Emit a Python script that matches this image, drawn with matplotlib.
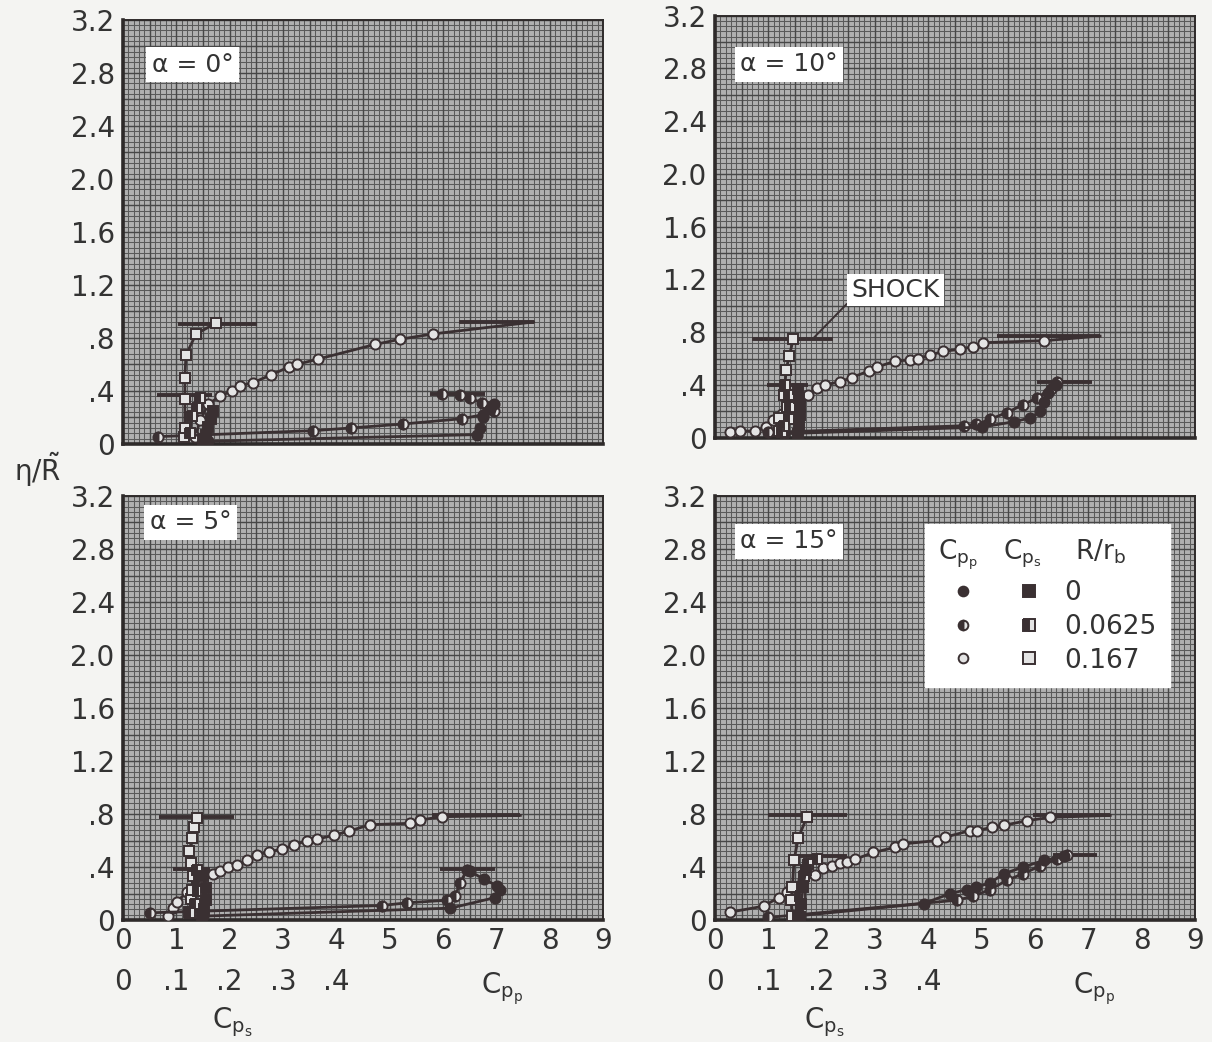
import matplotlib
matplotlib.use("Agg")
import matplotlib.pyplot as plt
import numpy as np
from matplotlib.legend_handler import HandlerTuple
from matplotlib.lines import Line2D

plt.rcParams["font.family"] = ["DejaVu Sans"]
plt.rcParams["mathtext.default"] = "regular"

INK = "#3a3032"
TXT = "#333333"
PAPER = "#b0b0b0"
OPEN_FACE = "#e4e4e4"
CPS_SCALE = 10  # Cps scale: .1 of Cps per unit of Cpp

# axis ticks
cpp_ticks = [0, 1, 2, 3, 4, 5, 6, 7, 8, 9]
cps_tick_labels = ["0", ".1", ".2", ".3", ".4"]
eta_ticks = [0, 0.4, 0.8, 1.2, 1.6, 2.0, 2.4, 2.8, 3.2]
eta_tick_labels = ["0", ".4", ".8", "1.2", "1.6", "2.0", "2.4", "2.8", "3.2"]
r_values = ["0", "0.0625", "0.167"]
alphas = [0, 10, 5, 15]

# ---- alpha = 0 deg ----
a0_cpp_167_x = [1.35, 1.45, 1.60, 1.82, 2.04, 2.19, 2.43, 2.77, 3.11, 3.26, 3.66, 4.72, 5.20, 5.82, 7.70]
a0_cpp_167_y = [0.05, 0.18, 0.30, 0.36, 0.40, 0.44, 0.46, 0.52, 0.58, 0.60, 0.64, 0.75, 0.79, 0.83, 0.92]
a0_cpp_0625_x = [0.66, 3.57, 4.27, 5.25, 6.35, 6.75, 6.95, 6.85, 6.73, 6.51, 6.32, 5.98]
a0_cpp_0625_y = [0.055, 0.10, 0.12, 0.15, 0.19, 0.22, 0.25, 0.28, 0.31, 0.345, 0.37, 0.38]
a0_cpp_0_x = [1.60, 6.63, 6.69, 6.75, 6.88, 6.96]
a0_cpp_0_y = [0.02, 0.07, 0.12, 0.20, 0.26, 0.30]
a0_cps_167_x = [0.114, 0.116, 0.116, 0.116, 0.118, 0.137, 0.174]
a0_cps_167_y = [0.05, 0.12, 0.34, 0.50, 0.67, 0.83, 0.91]
a0_cps_0625_x = [0.125, 0.130, 0.138, 0.144]
a0_cps_0625_y = [0.08, 0.21, 0.27, 0.345]
a0_cps_0_x = [0.150, 0.155, 0.160, 0.165, 0.168]
a0_cps_0_y = [0.02, 0.07, 0.13, 0.19, 0.25]
a0_shock_cpp_167 = [6.30, 7.70, 0.92]
a0_shock_cpp_0625 = [5.76, 6.79, 0.38]
a0_shock_cps_167 = [0.103, 0.251, 0.905]
a0_shock_cps_0625 = [0.064, 0.167, 0.37]

# ---- alpha = 10 deg ----
a10_cpp_167_x = [0.28, 0.47, 0.75, 0.96, 1.09, 1.25, 1.41, 1.59, 1.75, 1.91, 2.06, 2.35, 2.56, 2.88,
                 3.03, 3.38, 3.66, 3.81, 4.03, 4.28, 4.60, 4.83, 5.03, 6.16, 7.22]
a10_cpp_167_y = [0.04, 0.05, 0.05, 0.08, 0.13, 0.18, 0.23, 0.29, 0.32, 0.375, 0.40, 0.425, 0.455, 0.505,
                 0.535, 0.58, 0.59, 0.60, 0.625, 0.655, 0.67, 0.69, 0.72, 0.735, 0.77]
a10_cpp_0625_x = [1.00, 4.66, 4.90, 5.16, 5.47, 5.78, 6.03, 6.29, 6.41]
a10_cpp_0625_y = [0.04, 0.09, 0.10, 0.14, 0.19, 0.25, 0.30, 0.37, 0.42]
a10_cpp_0_x = [1.30, 5.00, 5.60, 5.91, 6.10, 6.16, 6.25, 6.40]
a10_cpp_0_y = [0.03, 0.08, 0.12, 0.15, 0.20, 0.27, 0.34, 0.40]
a10_cps_167_x = [0.119, 0.120, 0.134, 0.130, 0.131, 0.133, 0.139, 0.147]
a10_cps_167_y = [0.05, 0.15, 0.23, 0.32, 0.39, 0.51, 0.62, 0.75]
a10_cps_0625_x = [0.125, 0.130, 0.138, 0.140, 0.138, 0.132]
a10_cps_0625_y = [0.04, 0.09, 0.14, 0.23, 0.32, 0.40]
a10_cps_0_x = [0.155, 0.158, 0.160, 0.160, 0.158, 0.155]
a10_cps_0_y = [0.03, 0.10, 0.17, 0.23, 0.30, 0.37]
a10_shock_cpp_167 = [5.28, 7.22, 0.77]
a10_shock_cpp_0625 = [6.03, 7.07, 0.42]
a10_shock_cps_167 = [0.069, 0.222, 0.75]
a10_shock_cps_0625 = [0.097, 0.175, 0.40]

# ---- alpha = 5 deg ----
a5_cpp_167_x = [0.85, 0.94, 1.01, 1.20, 1.44, 1.69, 1.82, 1.97, 2.13, 2.32, 2.51, 2.73, 2.98, 3.20,
                3.45, 3.63, 3.95, 4.23, 4.63, 5.38, 5.57, 5.98, 7.45]
a5_cpp_167_y = [0.03, 0.09, 0.14, 0.21, 0.28, 0.35, 0.37, 0.40, 0.415, 0.45, 0.49, 0.515, 0.535, 0.565,
                0.60, 0.61, 0.64, 0.67, 0.72, 0.73, 0.755, 0.78, 0.79]
a5_cpp_0625_x = [0.51, 4.85, 5.32, 6.07, 6.23, 6.32, 6.45]
a5_cpp_0625_y = [0.055, 0.11, 0.13, 0.15, 0.18, 0.28, 0.38]
a5_cpp_0_x = [1.50, 6.14, 6.98, 7.06, 7.01, 6.76, 6.50]
a5_cpp_0_y = [0.03, 0.09, 0.17, 0.23, 0.26, 0.31, 0.37]
a5_cps_167_x = [0.124, 0.127, 0.129, 0.131, 0.127, 0.124, 0.130, 0.133, 0.138]
a5_cps_167_y = [0.06, 0.16, 0.23, 0.33, 0.43, 0.52, 0.62, 0.70, 0.77]
a5_cps_0625_x = [0.125, 0.135, 0.140, 0.142, 0.138]
a5_cps_0625_y = [0.05, 0.12, 0.22, 0.30, 0.38]
a5_cps_0_x = [0.148, 0.152, 0.155, 0.155, 0.150]
a5_cps_0_y = [0.02, 0.08, 0.15, 0.24, 0.33]
a5_shock_cpp_167 = [5.80, 7.45, 0.79]
a5_shock_cpp_0625 = [5.95, 6.98, 0.385]
a5_shock_cps_167 = [0.068, 0.208, 0.78]
a5_shock_cps_0625 = [0.093, 0.163, 0.385]

# ---- alpha = 15 deg ----
a15_cpp_167_x = [0.28, 0.91, 1.19, 1.34, 1.43, 1.65, 1.88, 2.03, 2.19, 2.34, 2.47, 2.63, 2.97, 3.38,
                 3.53, 4.16, 4.31, 4.78, 4.91, 5.19, 5.41, 5.85, 6.28, 7.41]
a15_cpp_167_y = [0.06, 0.105, 0.17, 0.21, 0.25, 0.30, 0.34, 0.39, 0.41, 0.43, 0.435, 0.46, 0.51, 0.55,
                 0.575, 0.60, 0.625, 0.675, 0.675, 0.70, 0.715, 0.75, 0.775, 0.79]
a15_cpp_0625_x = [1.00, 4.53, 4.84, 5.16, 5.47, 5.78, 6.10, 6.41, 6.60]
a15_cpp_0625_y = [0.02, 0.15, 0.18, 0.23, 0.30, 0.35, 0.41, 0.46, 0.49]
a15_cpp_0_x = [1.50, 3.91, 4.41, 4.72, 4.90, 5.16, 5.41, 5.78, 6.16, 6.54]
a15_cpp_0_y = [0.03, 0.125, 0.20, 0.23, 0.25, 0.28, 0.35, 0.40, 0.45, 0.48]
a15_cps_167_x = [0.145, 0.143, 0.145, 0.148, 0.156, 0.172]
a15_cps_167_y = [0.03, 0.15, 0.25, 0.45, 0.62, 0.775]
a15_cps_0625_x = [0.155, 0.160, 0.166, 0.175, 0.191]
a15_cps_0625_y = [0.03, 0.18, 0.33, 0.42, 0.46]
a15_cps_0_x = [0.160, 0.162, 0.165, 0.170]
a15_cps_0_y = [0.02, 0.12, 0.25, 0.38]
a15_shock_cpp_167 = [5.97, 7.41, 0.79]
a15_shock_cpp_0 = [6.34, 7.17, 0.49]
a15_shock_cps_167 = [0.100, 0.247, 0.79]
a15_shock_cps_0625 = [0.147, 0.247, 0.48]

shock_label = "SHOCK"
shock_label_at = [1.85, 0.757]

# table built from the arrays above: (x, y, marker, R/rb, scale, open end)
panels = {
    0: dict(series=[(a0_cpp_167_x, a0_cpp_167_y, "o", "0.167", 1, True),
                    (a0_cpp_0625_x, a0_cpp_0625_y, "o", "0.0625", 1, False),
                    (a0_cpp_0_x, a0_cpp_0_y, "o", "0", 1, False),
                    (a0_cps_167_x, a0_cps_167_y, "s", "0.167", CPS_SCALE, False),
                    (a0_cps_0625_x, a0_cps_0625_y, "s", "0.0625", CPS_SCALE, False),
                    (a0_cps_0_x, a0_cps_0_y, "s", "0", CPS_SCALE, False)],
            shocks=[(a0_shock_cpp_167, 1), (a0_shock_cpp_0625, 1),
                    (a0_shock_cps_167, CPS_SCALE), (a0_shock_cps_0625, CPS_SCALE)]),
    10: dict(series=[(a10_cpp_167_x, a10_cpp_167_y, "o", "0.167", 1, True),
                     (a10_cpp_0625_x, a10_cpp_0625_y, "o", "0.0625", 1, False),
                     (a10_cpp_0_x, a10_cpp_0_y, "o", "0", 1, False),
                     (a10_cps_167_x, a10_cps_167_y, "s", "0.167", CPS_SCALE, False),
                     (a10_cps_0625_x, a10_cps_0625_y, "s", "0.0625", CPS_SCALE, False),
                     (a10_cps_0_x, a10_cps_0_y, "s", "0", CPS_SCALE, False)],
             shocks=[(a10_shock_cpp_167, 1), (a10_shock_cpp_0625, 1),
                     (a10_shock_cps_167, CPS_SCALE), (a10_shock_cps_0625, CPS_SCALE)]),
    5: dict(series=[(a5_cpp_167_x, a5_cpp_167_y, "o", "0.167", 1, True),
                    (a5_cpp_0625_x, a5_cpp_0625_y, "o", "0.0625", 1, False),
                    (a5_cpp_0_x, a5_cpp_0_y, "o", "0", 1, False),
                    (a5_cps_167_x, a5_cps_167_y, "s", "0.167", CPS_SCALE, False),
                    (a5_cps_0625_x, a5_cps_0625_y, "s", "0.0625", CPS_SCALE, False),
                    (a5_cps_0_x, a5_cps_0_y, "s", "0", CPS_SCALE, False)],
            shocks=[(a5_shock_cpp_167, 1), (a5_shock_cpp_0625, 1),
                    (a5_shock_cps_167, CPS_SCALE), (a5_shock_cps_0625, CPS_SCALE)]),
    15: dict(series=[(a15_cpp_167_x, a15_cpp_167_y, "o", "0.167", 1, True),
                     (a15_cpp_0625_x, a15_cpp_0625_y, "o", "0.0625", 1, False),
                     (a15_cpp_0_x, a15_cpp_0_y, "o", "0", 1, False),
                     (a15_cps_167_x, a15_cps_167_y, "s", "0.167", CPS_SCALE, False),
                     (a15_cps_0625_x, a15_cps_0625_y, "s", "0.0625", CPS_SCALE, False),
                     (a15_cps_0_x, a15_cps_0_y, "s", "0", CPS_SCALE, False)],
             shocks=[(a15_shock_cpp_167, 1), (a15_shock_cpp_0, 1),
                     (a15_shock_cps_167, CPS_SCALE), (a15_shock_cps_0625, CPS_SCALE)]),
}


def marker_style(r, marker):
    ms = 7.3 if marker == "o" else 7.6
    base = dict(marker=marker, ms=ms, mec=INK, mew=1.4)
    if r == "0":
        base.update(mfc=INK)
    elif r == "0.0625":
        base.update(mfc=INK, fillstyle="left", mfcalt=OPEN_FACE)
    else:
        base.update(mfc=OPEN_FACE)
    return base


def graph_paper(ax):
    ax.set_facecolor(PAPER)
    for v in np.arange(0, 9.001, 0.1):
        ax.axvline(v, color="#5a5a5a", lw=0.75, zorder=0.3)
    for v in np.arange(0, 3.2001, 0.04):
        ax.axhline(v, color="#5a5a5a", lw=0.75, zorder=0.3)
    for v in np.arange(0, 9.001, 0.5):
        ax.axvline(v, color="#474747", lw=1.0, zorder=0.4)
    for v in np.arange(0, 3.2001, 0.2):
        ax.axhline(v, color="#474747", lw=1.0, zorder=0.4)


fig = plt.figure(figsize=(12.12, 10.42), dpi=100)
fig.patch.set_facecolor("#f4f4f2")

boxes = {0: [0.1015, 0.574, 0.396, 0.407],
         10: [0.590, 0.580, 0.396, 0.405],
         5: [0.1015, 0.117, 0.396, 0.407],
         15: [0.590, 0.117, 0.396, 0.407]}
label_pos = {0: (0.54, 2.86), 10: (0.47, 2.83), 5: (0.50, 3.00), 15: (0.47, 2.86)}

axes = {}
for a in alphas:
    ax = fig.add_axes(boxes[a])
    axes[a] = ax
    graph_paper(ax)
    ax.set_xlim(0, 9)
    ax.set_ylim(0, 3.2)
    for s in ax.spines.values():
        s.set_color("#2e2a2a")
        s.set_linewidth(1.4)
    ax.spines["left"].set_linewidth(2.6)
    ax.spines["bottom"].set_linewidth(2.6)

    for x, y, marker, r, scale, open_end in panels[a]["series"]:
        xs = np.asarray(x) * scale
        mk = list(range(len(xs) - 1)) if open_end else None
        ax.plot(xs, y, color=INK, lw=2.0, markevery=mk, zorder=3, **marker_style(r, marker))
    for (x0, x1, yv), scale in panels[a]["shocks"]:
        ax.hlines(yv, x0 * scale, x1 * scale, color=INK, lw=2.8, zorder=2.5)

    ax.set_yticks(eta_ticks)
    ax.set_yticklabels(eta_tick_labels)
    ax.tick_params(axis="both", length=0, labelsize=20, labelcolor=TXT)
    ax.tick_params(axis="y", pad=6)

    lx, ly = label_pos[a]
    ax.text(lx, ly, f"α = {a}°", fontsize=18, color=TXT, ha="left", va="center", zorder=5,
            bbox=dict(fc="white", ec="none", pad=4))

    if a in (5, 15):
        labels = []
        for i, t in enumerate(cpp_ticks):
            if i < len(cps_tick_labels):
                labels.append(f"{t}\n{cps_tick_labels[i]}")
            else:
                labels.append(f"{t}")
        ax.set_xticks(cpp_ticks)
        ax.set_xticklabels(labels)
        for lab in ax.get_xticklabels():
            lab.set_linespacing(1.6)
        ax.tick_params(axis="x", pad=5)
        trans = ax.get_xaxis_transform()
        ax.text(7.1, -0.163, "$C_{p_p}$", transform=trans, fontsize=20, color=TXT,
                ha="center", va="center")
        ax.text(2.05, -0.240, "$C_{p_s}$", transform=trans, fontsize=20, color=TXT,
                ha="center", va="center")
    else:
        ax.set_xticks([])

# shock annotation
axes[10].annotate(shock_label, xy=shock_label_at, xytext=(2.55, 1.12), fontsize=18, color=TXT,
                  ha="left", va="center", zorder=5,
                  bbox=dict(fc="white", ec="none", pad=3),
                  arrowprops=dict(arrowstyle="-", color=INK, lw=1.4, relpos=(0.0, 0.1),
                                  shrinkA=0, shrinkB=0))

# legend
handles = []
for r in r_values:
    h_c = Line2D([], [], ls="", color=INK, **dict(marker_style(r, "o"), ms=7))
    h_s = Line2D([], [], ls="", color=INK, **dict(marker_style(r, "s"), ms=8))
    handles.append((h_c, h_s))
leg = axes[15].legend(handles, r_values, handler_map={tuple: HandlerTuple(ndivide=None, pad=0.6)},
                      loc="upper right", bbox_to_anchor=(0.975, 0.965), fontsize=19,
                      title="$C_{p_p}$   $C_{p_s}$    $R/r_b$", title_fontsize=19,
                      alignment="left", handlelength=4.4, handletextpad=0.4, labelspacing=0.3,
                      borderpad=0.5, frameon=True, fancybox=False, framealpha=1,
                      facecolor="white", edgecolor="white")
for t in leg.get_texts():
    t.set_color(TXT)
leg.get_title().set_color(TXT)
leg.set_zorder(6)

fig.text(0.031, 0.549, r"$\eta/\tilde{R}$", fontsize=20, color=TXT, ha="center", va="center")

fig.savefig("out.png", dpi=100, facecolor=fig.get_facecolor())
